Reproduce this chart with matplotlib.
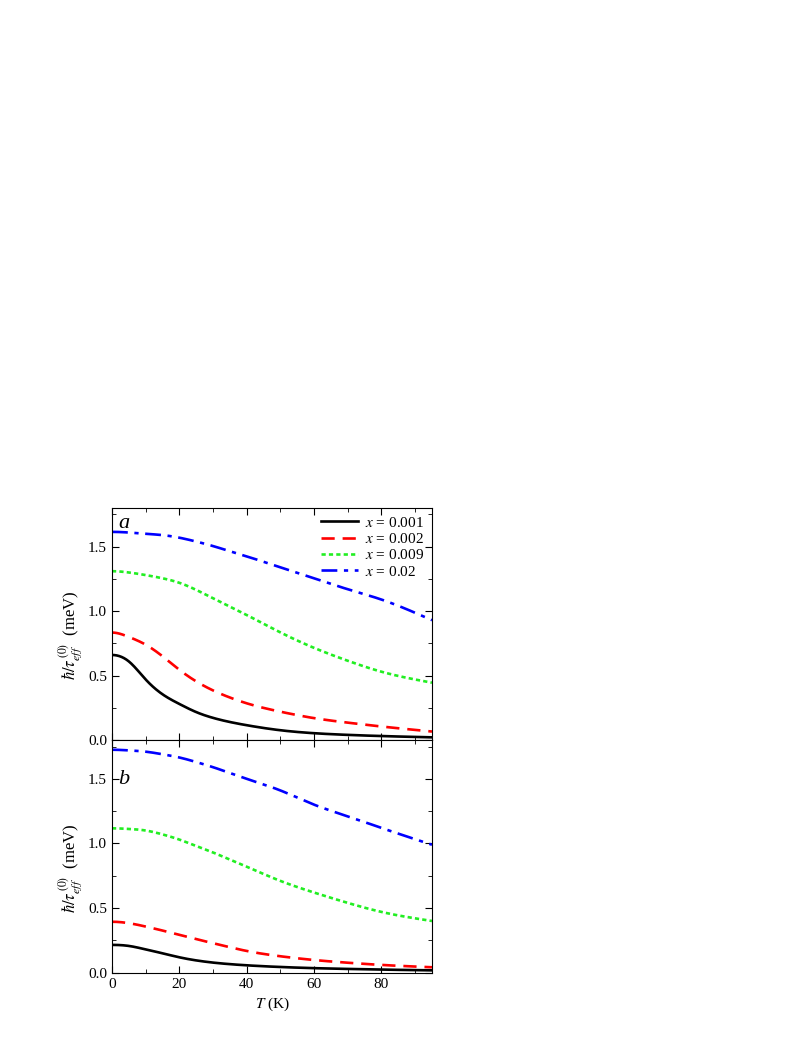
import numpy as np
import matplotlib
matplotlib.use("Agg")
import matplotlib.pyplot as plt
from matplotlib.ticker import MultipleLocator

plt.rcParams['font.family'] = ['Liberation Serif', 'DejaVu Serif']
plt.rcParams['mathtext.fontset'] = 'stix'

# temperatures (K)
T = [0, 5, 10, 15, 20, 25, 30, 35, 40, 50, 60, 70, 80, 95]

# panel a
a_001 = [0.66, 0.61, 0.47, 0.355, 0.28, 0.217, 0.172, 0.14, 0.115, 0.076, 0.053, 0.040, 0.031, 0.021]
a_002 = [0.834, 0.80, 0.74, 0.65, 0.545, 0.455, 0.385, 0.33, 0.285, 0.22, 0.17, 0.135, 0.105, 0.066]
a_009 = [1.31, 1.30, 1.28, 1.255, 1.22, 1.165, 1.10, 1.035, 0.97, 0.835, 0.715, 0.615, 0.53, 0.445]
a_02 = [1.615, 1.61, 1.60, 1.59, 1.57, 1.54, 1.505, 1.465, 1.425, 1.34, 1.255, 1.17, 1.09, 0.93]

# panel b
b_001 = [0.215, 0.207, 0.18, 0.15, 0.119, 0.095, 0.078, 0.066, 0.057, 0.044, 0.035, 0.029, 0.024, 0.018]
b_002 = [0.394, 0.383, 0.357, 0.326, 0.293, 0.26, 0.228, 0.197, 0.168, 0.127, 0.098, 0.077, 0.06, 0.042]
b_009 = [1.117, 1.112, 1.10, 1.07, 1.03, 0.98, 0.93, 0.875, 0.82, 0.71, 0.62, 0.54, 0.47, 0.40]
b_02 = [1.725, 1.72, 1.71, 1.69, 1.665, 1.63, 1.59, 1.545, 1.50, 1.41, 1.30, 1.21, 1.12, 0.99]

labels = ["$x$ = 0.001", "$x$ = 0.002", "$x$ = 0.009", "$x$ = 0.02"]
colors = ["black", "red", "#22ee22", "blue"]
dashes = [None, (5, 3), (1.6, 1.2), (6, 2.5, 1.6, 2.5)]


def spline(x, y, n=400):
    # cubic spline, zero slope at T=0, natural at the far end
    x = np.asarray(x, float)
    y = np.asarray(y, float)
    N = len(x)
    h = np.diff(x)
    A = np.zeros((N, N))
    r = np.zeros(N)
    A[0, 0] = 2 * h[0]
    A[0, 1] = h[0]
    r[0] = 6 * ((y[1] - y[0]) / h[0])
    for i in range(1, N - 1):
        A[i, i - 1] = h[i - 1]
        A[i, i] = 2 * (h[i - 1] + h[i])
        A[i, i + 1] = h[i]
        r[i] = 6 * ((y[i + 1] - y[i]) / h[i] - (y[i] - y[i - 1]) / h[i - 1])
    A[-1, -1] = 1
    M = np.linalg.solve(A, r)
    xs = np.linspace(x[0], x[-1], n)
    idx = np.clip(np.searchsorted(x, xs, side='right') - 1, 0, N - 2)
    x0, x1 = x[idx], x[idx + 1]
    hh = x1 - x0
    ys = (M[idx] * (x1 - xs)**3 / (6 * hh) + M[idx + 1] * (xs - x0)**3 / (6 * hh)
          + (y[idx] / hh - M[idx] * hh / 6) * (x1 - xs)
          + (y[idx + 1] / hh - M[idx + 1] * hh / 6) * (xs - x0))
    return xs, ys


fig = plt.figure(figsize=(7.97, 10.56), dpi=100)
axA = fig.add_axes([0.1405, 0.2992, 0.4015, 0.2197])
axB = fig.add_axes([0.1405, 0.0789, 0.4015, 0.2203])

for ax, series in [(axA, [a_001, a_002, a_009, a_02]), (axB, [b_001, b_002, b_009, b_02])]:
    for y, lab, c, ds in zip(series, labels, colors, dashes):
        xs, ys = spline(T, y)
        line, = ax.plot(xs, ys, color=c, lw=1.9, label=lab)
        if ds is not None:
            line.set_dashes(ds)
    ax.set_xlim(0, 95)
    ax.set_ylim(0, 1.8)
    ax.xaxis.set_major_locator(MultipleLocator(20))
    ax.xaxis.set_minor_locator(MultipleLocator(10))
    ax.yaxis.set_major_locator(MultipleLocator(0.5))
    ax.yaxis.set_minor_locator(MultipleLocator(0.25))
    ax.tick_params(which='both', direction='in', top=True, right=True, labelsize=11)
    ax.tick_params(which='major', length=5)
    ax.tick_params(which='minor', length=3)
    ax.set_ylabel(r"$\hbar/\tau_{eff}^{\,(0)}$  (meV)", fontsize=12)
    ax.yaxis.set_label_coords(-0.085, 0.45)

axA.tick_params(labelbottom=False)
axA.text(0.02, 0.975, "a", transform=axA.transAxes, fontsize=16, style='italic', va='top')
axB.text(0.02, 0.87, "b", transform=axB.transAxes, fontsize=16, style='italic', va='top')
axB.set_xlabel("$T$ (K)", fontsize=11)

axA.legend(loc='upper right', frameon=False, fontsize=11, handlelength=2.4,
           labelspacing=0.15, borderaxespad=0.1, handletextpad=0.5)

fig.savefig("out.png", dpi=100)
